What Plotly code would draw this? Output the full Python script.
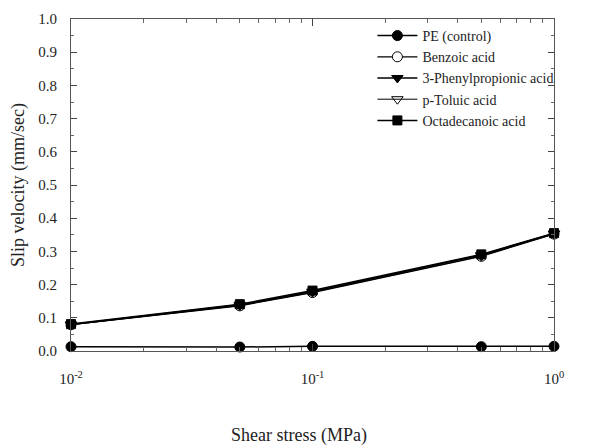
import plotly.graph_objects as go

shear_stress = [0.01, 0.05, 0.1, 0.5, 1.0]
pe_control = [0.013, 0.012, 0.014, 0.013, 0.014]
benzoic = [0.079, 0.136, 0.176, 0.285, 0.352]
phenylpropionic = [0.080, 0.139, 0.179, 0.289, 0.354]
toluic = [0.079, 0.137, 0.177, 0.286, 0.353]
octadecanoic = [0.081, 0.141, 0.182, 0.291, 0.355]

series = [
    ("PE (control)", pe_control, "circle", "black", 1.5, 10),
    ("Benzoic acid", benzoic, "circle", "white", 1.2, 10),
    ("3-Phenylpropionic acid", phenylpropionic, "triangle-down", "black", 1.5, 10),
    ("p-Toluic acid", toluic, "triangle-down-open", "black", 1.0, 10),
    ("Octadecanoic acid", octadecanoic, "square", "black", 1.5, 9),
]

fig = go.Figure()
for name, vals, sym, fill, lw, ms in series:
    fig.add_trace(go.Scatter(
        x=shear_stress, y=vals, name=name, mode="lines+markers",
        line=dict(color="black", width=lw),
        marker=dict(symbol=sym, size=ms, color=fill, line=dict(color="black", width=1)),
        cliponaxis=False,
    ))

font = "Liberation Serif, Times New Roman, serif"
fig.update_layout(
    width=600, height=448,
    margin=dict(l=63, r=54, t=11, b=105, autoexpand=False),
    paper_bgcolor="white", plot_bgcolor="white",
    font=dict(family=font, size=15, color="#222"),
    showlegend=True,
    legend=dict(x=0.624, y=0.997, xanchor="left", yanchor="top",
                bgcolor="rgba(0,0,0,0)", font=dict(size=14), itemwidth=40),
    xaxis=dict(
        type="log", range=[-2, 0], automargin=False,
        tickvals=[0.01, 0.1, 1], ticktext=["10<sup>-2</sup>", "10<sup>-1</sup>", "10<sup>0</sup>"],
        ticks="inside", ticklen=7, tickcolor="#444",
        showline=True, linecolor="#555", linewidth=1, mirror="ticks",
        showgrid=False, zeroline=False,
        ticklabelstandoff=14,
        minor=dict(ticks="inside", ticklen=4, tickcolor="#666",
                   tickvals=[0.02, 0.03, 0.04, 0.05, 0.06, 0.07, 0.08, 0.09,
                             0.2, 0.3, 0.4, 0.5, 0.6, 0.7, 0.8, 0.9], showgrid=False),
    ),
    yaxis=dict(
        range=[0, 1], dtick=0.1, tickformat=".1f", automargin=False,
        ticks="inside", ticklen=6, tickcolor="#444",
        showline=True, linecolor="#555", linewidth=1, mirror="ticks",
        showgrid=False, zeroline=False,
        ticklabelstandoff=10,
        minor=dict(ticks="inside", ticklen=3, tickcolor="#666", dtick=0.05, showgrid=False),
        title=dict(text="Slip velocity (mm/sec)", font=dict(size=18), standoff=16),
    ),
    annotations=[dict(text="Shear stress (MPa)", xref="paper", yref="paper",
                      x=0.473, y=-0.255, xanchor="center", yanchor="middle",
                      showarrow=False, font=dict(size=18))],
)

fig.write_html("out.html")
